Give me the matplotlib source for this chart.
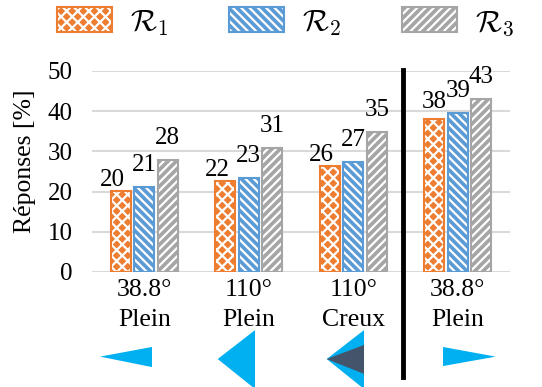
import numpy as np
import matplotlib
matplotlib.use("Agg")
import matplotlib.pyplot as plt
from matplotlib.patches import Patch, Polygon
from matplotlib.legend_handler import HandlerTuple
import matplotlib.transforms as mtransforms

plt.rcParams['font.family'] = ['Liberation Serif', 'DejaVu Serif']
plt.rcParams['mathtext.fontset'] = 'cm'
plt.rcParams['hatch.linewidth'] = 1.6

# data
categories = ["38.8°\nPlein", "110°\nPlein", "110°\nCreux", "38.8°\nPlein"]
series_names = [r"$\mathcal{R}_1$", r"$\mathcal{R}_2$", r"$\mathcal{R}_3$"]
r1 = [20.2, 22.7, 26.4, 38.0]
r2 = [21.2, 23.5, 27.4, 39.6]
r3 = [27.9, 30.8, 34.8, 43.0]
labels_r1 = ["20", "22", "26", "38"]
labels_r2 = ["21", "23", "27", "39"]
labels_r3 = ["28", "31", "35", "43"]

colors = ["#ED7D31", "#5B9BD5", "#A5A5A5"]
hatches = ["xxx", "\\\\\\\\", "////"]
# label offsets in pixels (dx, dy) above each bar top
offsets_r1 = [(-8, 0), (-8, 0), (-8, 0), (0, 6)]

fig = plt.figure(figsize=(5.42, 3.87), dpi=100)
ax = fig.add_axes([92 / 542, 1 - 272 / 387, 418 / 542, 201 / 387])

x = np.arange(len(categories))
width = 0.19
step = 0.225
series = [r1, r2, r3]
lab_all = [labels_r1, labels_r2, labels_r3]

handles = []
for k, (vals, col, h) in enumerate(zip(series, colors, hatches)):
    pos = x + (k - 1) * step
    ax.bar(pos, vals, width, color=col, edgecolor="white", hatch=h, linewidth=0, zorder=3)
    ax.bar(pos, vals, width, fill=False, edgecolor=col, linewidth=1.5, zorder=4)
    for i, (p, v, t) in enumerate(zip(pos, vals, lab_all[k])):
        dx, dy = offsets_r1[i] if k == 0 else (0, 11)
        ax.annotate(t, (p, v), xytext=(dx * 0.72, dy * 0.72), textcoords="offset points",
                    ha="center", va="bottom", fontsize=18)
    hf = Patch(facecolor=col, edgecolor="white", hatch=h, linewidth=0)
    he = Patch(fill=False, edgecolor=col, linewidth=1.5)
    handles.append((hf, he))

ax.set_xlim(-0.5, 3.5)
ax.set_ylim(0, 50)
ax.set_yticks(np.arange(0, 51, 10))
ax.set_xticks(x)
ax.set_xticklabels(categories, fontsize=18.5, linespacing=1.45)
ax.tick_params(axis="both", length=0)
ax.tick_params(axis="y", pad=14, labelsize=18)
ax.tick_params(axis="x", pad=5)
ax.yaxis.grid(True, color="#D9D9D9", linewidth=1.5, zorder=0)
ax.set_axisbelow(True)
for s in ax.spines.values():
    s.set_visible(False)
ax.set_ylabel("Réponses [%]", fontsize=18.5)
ax.yaxis.set_label_coords(-0.135, 0.55)

# separator line
trans = mtransforms.blended_transform_factory(ax.transData, ax.transAxes)
ax.plot([2.48, 2.48], [1.005, -0.52], color="black", linewidth=3.5, transform=trans,
        clip_on=False, zorder=5)

# direction icons below categories (x offsets in category units, y in axes fraction)
icons = [
    (0, [(-0.423, -0.421), (0.074, -0.373), (0.074, -0.473)], "#00B0F0"),
    (1, [(-0.297, -0.433), (0.06, -0.289), (0.06, -0.582)], "#00B0F0"),
    (2, [(-0.254, -0.433), (0.103, -0.289), (0.103, -0.582)], "#00B0F0"),
    (2, [(-0.254, -0.433), (0.103, -0.363), (0.103, -0.507)], "#44546A"),
    (3, [(0.363, -0.421), (-0.141, -0.373), (-0.141, -0.468)], "#00B0F0"),
]
for ci, pts, col in icons:
    poly = Polygon([(ci + dx, yy) for dx, yy in pts], closed=True, facecolor=col,
                   edgecolor="none", transform=trans, clip_on=False)
    ax.add_patch(poly)

fig.legend(handles, series_names, handler_map={tuple: HandlerTuple(ndivide=1, pad=0)},
           loc="center left", bbox_to_anchor=(57 / 542, 1 - 22.5 / 387), ncol=3, frameon=False,
           fontsize=22, handlelength=1.8, handleheight=0.88, handletextpad=0.59,
           columnspacing=2.0, borderaxespad=0, borderpad=0)

fig.savefig("out.png", dpi=100)
